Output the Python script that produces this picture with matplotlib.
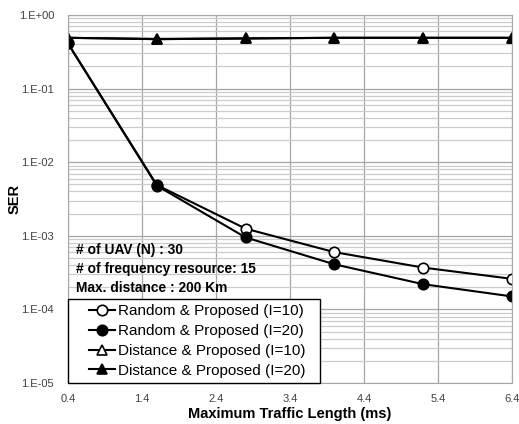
import numpy as np
import matplotlib
matplotlib.use("Agg")
import matplotlib.pyplot as plt
from matplotlib.lines import Line2D
from matplotlib.legend_handler import HandlerLine2D
from matplotlib.ticker import FuncFormatter, LogLocator

plt.rcParams["font.family"] = ["Liberation Sans", "DejaVu Sans"]

traffic_len = [0.4, 1.6, 2.8, 4.0, 5.2, 6.4]
random_i10 = [0.41, 4.9e-3, 1.25e-3, 6.0e-4, 3.7e-4, 2.6e-4]
random_i20 = [0.41, 4.8e-3, 9.5e-4, 4.1e-4, 2.2e-4, 1.5e-4]
distance_i10 = [0.49, 0.47, 0.48, 0.49, 0.49, 0.49]
distance_i20 = [0.49, 0.47, 0.48, 0.49, 0.49, 0.49]
x_ticks = [0.4, 1.4, 2.4, 3.4, 4.4, 5.4, 6.4]
info_lines = ["# of UAV (N) : 30", "# of frequency resource: 15", "Max. distance : 200 Km"]

fig = plt.figure(figsize=(5.19, 4.24), dpi=100)
ax = fig.add_axes([68 / 519, 1 - 383 / 424, 444 / 519, 368 / 424])

style = dict(color="black", linewidth=1.5, markersize=7.5, markeredgewidth=1.2)
ax.plot(traffic_len, random_i10, marker="o", markerfacecolor="white",
        label="Random & Proposed (I=10)", **style)
ax.plot(traffic_len, random_i20, marker="o", markerfacecolor="black",
        label="Random & Proposed (I=20)", **style)
ax.plot(traffic_len, distance_i10, marker="^", markerfacecolor="white",
        label="Distance & Proposed (I=10)", **style)
ax.plot(traffic_len, distance_i20, marker="^", markerfacecolor="black",
        label="Distance & Proposed (I=20)", **style)

ax.set_yscale("log")
ax.set_ylim(1e-5, 1)
ax.set_xlim(0.4, 6.4)
ax.set_xticks(x_ticks)
ax.xaxis.set_major_formatter(FuncFormatter(lambda v, p: f"{v:.1f}"))
ax.yaxis.set_major_locator(LogLocator(base=10, numticks=10))
ax.yaxis.set_minor_locator(LogLocator(base=10, subs=np.arange(2, 10), numticks=20))
ax.yaxis.set_major_formatter(FuncFormatter(lambda v, p: f"1.E{int(round(np.log10(v))):+03d}"))
ax.yaxis.set_minor_formatter(FuncFormatter(lambda v, p: ""))

ax.grid(True, which="major", color="#a6a6a6", linewidth=0.9)
ax.grid(True, which="minor", axis="y", color="#cccccc", linewidth=0.9)
ax.set_axisbelow(True)
for spine in ax.spines.values():
    spine.set_color("#a6a6a6")
ax.tick_params(which="both", length=0, labelsize=8, colors="#404040")
ax.tick_params(axis="y", pad=10)
ax.tick_params(axis="x", pad=8)

ax.set_xlabel("Maximum Traffic Length (ms)", fontsize=10.5, fontweight="bold")
ax.set_ylabel("SER", fontsize=10.5, fontweight="bold")
ax.xaxis.set_label_coords(0.5, -0.066)
ax.yaxis.set_label_coords(-0.105, 0.5)

for i, line in enumerate(info_lines):
    ax.text(0.018, 0.362 - i * 0.052, line, transform=ax.transAxes, fontsize=9.9,
            fontweight="bold", va="center", ha="left")

# handle inset from the frame like the original legend
leg = ax.legend(loc="lower left", bbox_to_anchor=(0, 0, 252 / 444, 0.25),
                mode="expand", borderaxespad=0,
                fontsize=11, handlelength=2.75, handletextpad=0.15,
                labelspacing=0.38, fancybox=False, framealpha=1,
                borderpad=0.35,
                handler_map={Line2D: HandlerLine2D(xpad=1.05)})
leg.get_frame().set_edgecolor("black")
leg.get_frame().set_linewidth(1.0)

fig.savefig("out.png", dpi=100)
